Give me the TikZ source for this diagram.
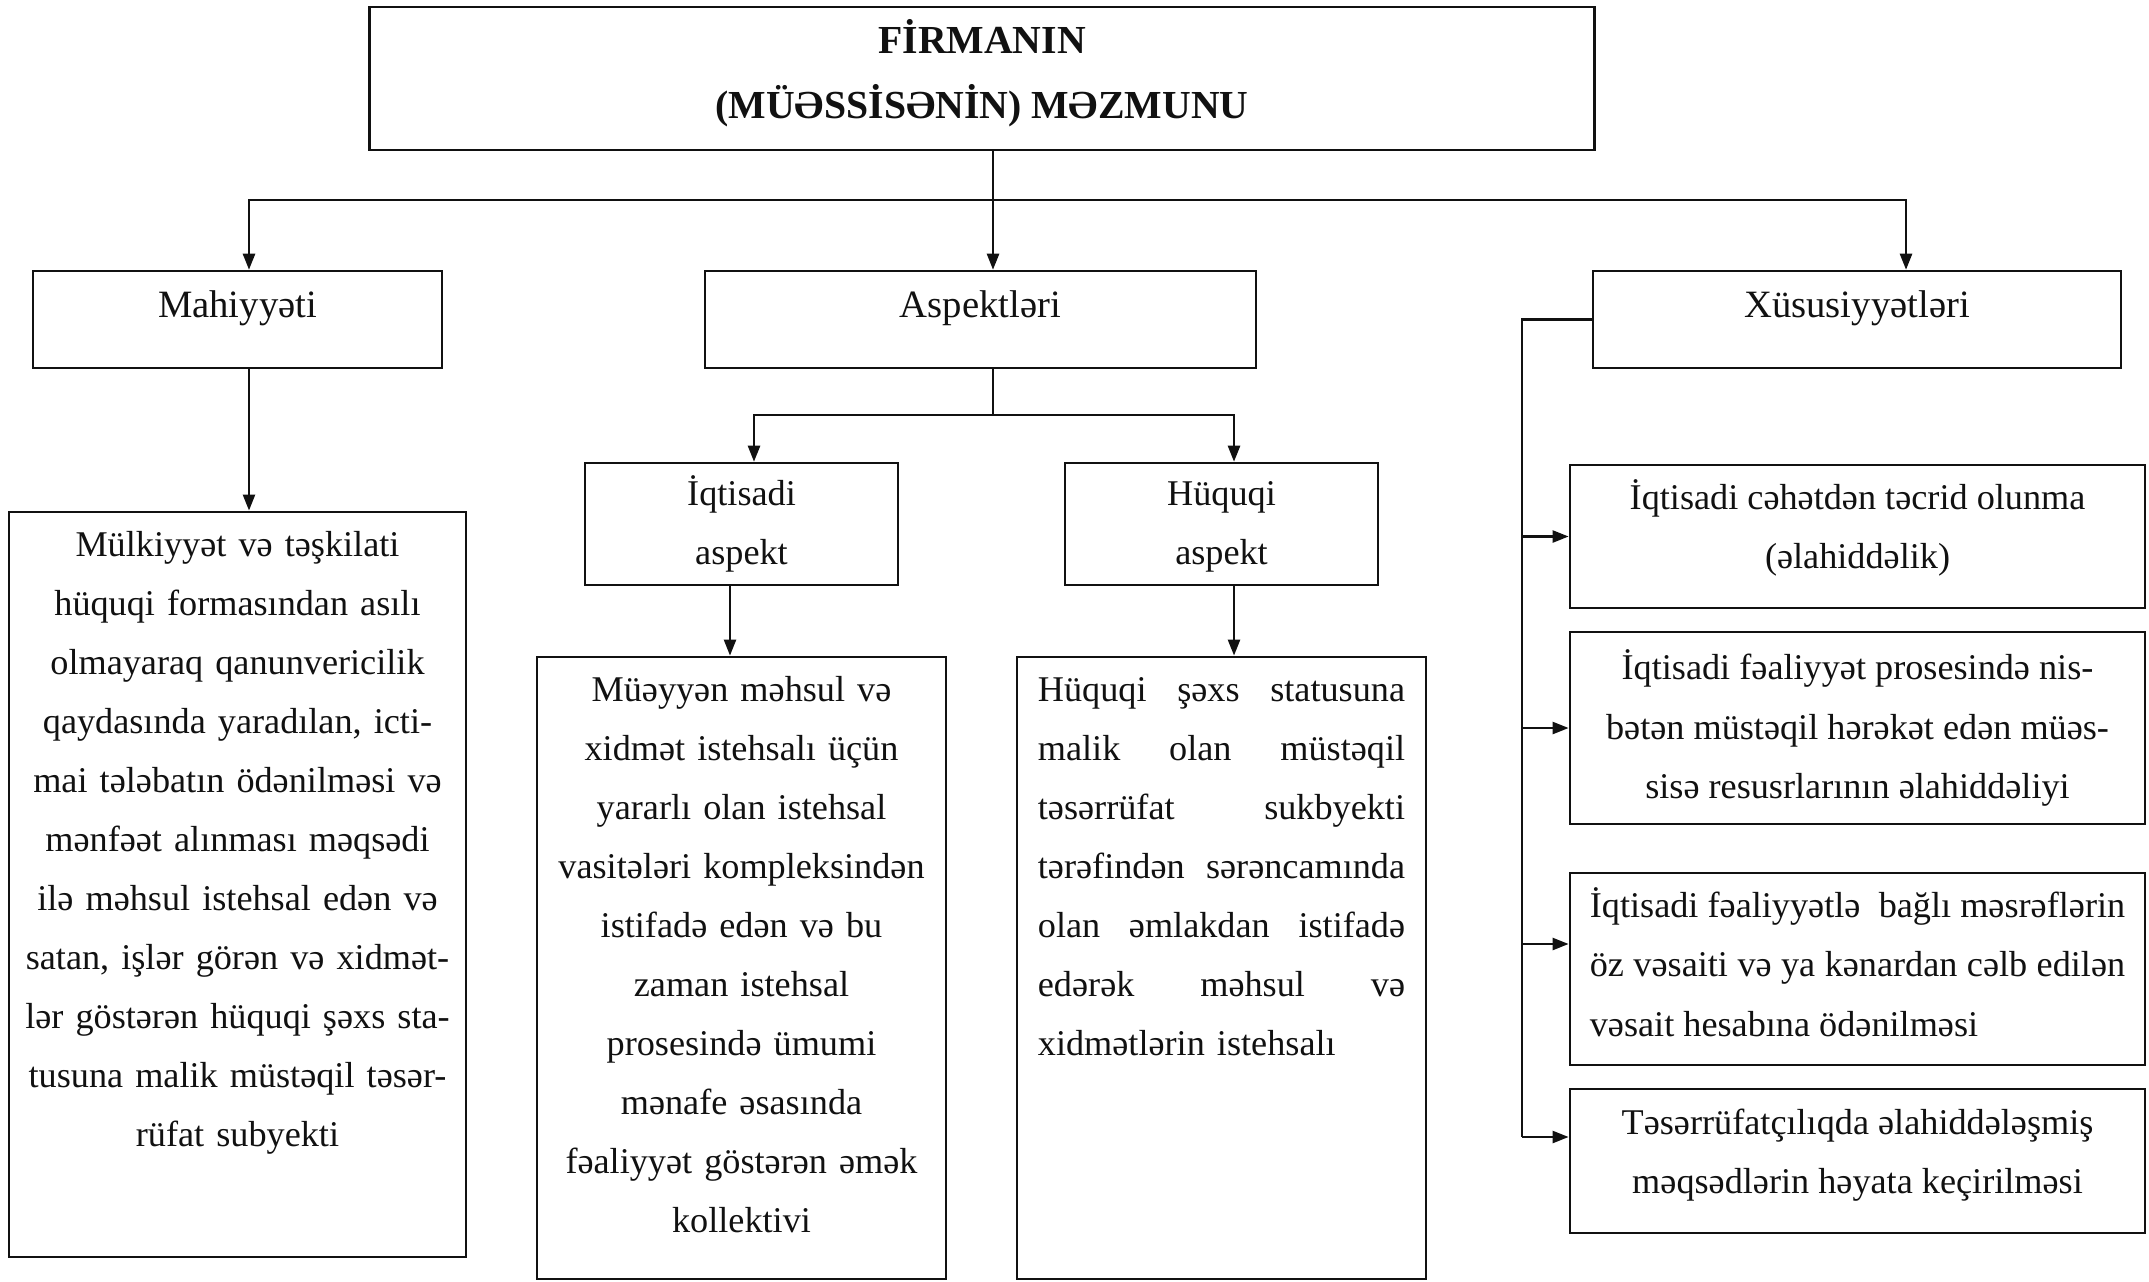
\documentclass[tikz,border=0pt]{standalone}
\usepackage{fontspec}
\setmainfont{Liberation Serif}
\usetikzlibrary{arrows.meta,positioning}
\definecolor{firmInk}{HTML}{111111}
\newcommand\firmjust[2]{\leavevmode\hbox to #1{#2}}
\tikzset{
  every picture/.style={font=\fontsize{10.3pt}{16.8pt}\selectfont, text=firmInk},
  firm box/.style={draw=firmInk, line width=0.7pt, fill=white, inner sep=0pt},
  firm head/.style={firm box, font=\fontsize{11pt}{16.8pt}\selectfont,
    text height=13.3pt, text depth=14.3pt},
  firm title/.style={firm box, align=center, text depth=5.6pt,
    font=\fontsize{11.3pt}{18.5pt}\selectfont\bfseries},
  firm aspect/.style={firm box, align=center, minimum width=3.13cm, minimum height=1.22cm,
    text height=24.8pt, text depth=1.9pt},
  firm item/.style={firm box, align=center, minimum width=5.75cm},
  firm text/.style={align=center, inner sep=0pt, anchor=base},
  firm line/.style={draw=firmInk, line width=0.7pt},
  firm arrow/.style={firm line, -{Triangle[length=1.6mm,width=1.2mm]}}
}
\begin{document}
\begin{tikzpicture}[x=0.01cm,y=-0.01cm]
  \useasboundingbox (0,0) rectangle (2149,1281);
  \node[firm title, minimum width=12.24cm, minimum height=1.43cm] (top) at (982,78.5)
    {FİRMANIN\\(MÜƏSSİSƏNİN) MƏZMUNU};
  \node[firm head, minimum width=4.09cm] (mah) at (237.5,319.5) {Mahiyyəti};
  \node[firm head, minimum width=5.51cm] (asp) at (980.5,319.5) {Aspektləri};
  \node[firm head, minimum width=5.28cm] (xus) at (1857,319.5) {Xüsusiyyətləri};

  \node[firm box, minimum width=4.57cm, minimum height=7.45cm] (mahbox) at (237.5,884.5) {};
  \node[firm text, text width=4.4cm] (mahtext) at ([yshift=-4.55mm]mahbox.north)
    {Mülkiyyət və təşkilati\\ hüquqi formasından asılı\\ olmayaraq qanunvericilik\\
     qaydasında yaradılan, icti-\\ mai tələbatın ödənilməsi və\\ mənfəət alınması məqsədi\\
     ilə məhsul istehsal edən və\\ satan, işlər görən və xidmət-\\ lər göstərən hüquqi şəxs sta-\\
     tusuna malik müstəqil təsər-\\ rüfat subyekti};

  \node[firm aspect] (iqa) at (741.5,524) {İqtisadi\\aspekt};
  \node[firm aspect] (huq) at (1221.5,524) {Hüquqi\\aspekt};

  \node[firm box, minimum width=4.09cm, minimum height=6.22cm] (iqbox) at (741.5,968) {};
  \node[firm text, text width=4.0cm] (iqtext) at ([yshift=-4.55mm]iqbox.north)
    {Müəyyən məhsul və\\ xidmət istehsalı üçün\\ yararlı olan istehsal\\
     vasitələri kompleksindən\\ istifadə edən və bu\\ zaman istehsal\\ prosesində ümumi\\
     mənafe əsasında\\ fəaliyyət göstərən əmək\\ kollektivi};
  \node[firm box, minimum width=4.09cm, minimum height=6.22cm] (huqbox) at (1221.5,968) {};
  \node[firm text, align=left, text width=3.67cm] (huqtext) at ([yshift=-4.55mm]huqbox.north)
    {\firmjust{3.67cm}{Hüquqi\hfill şəxs\hfill statusuna}\\
     \firmjust{3.67cm}{malik\hfill olan\hfill müstəqil}\\
     \firmjust{3.67cm}{təsərrüfat\hfill sukbyekti}\\
     \firmjust{3.67cm}{tərəfindən\hfill sərəncamında}\\
     \firmjust{3.67cm}{olan\hfill əmlakdan\hfill istifadə}\\
     \firmjust{3.67cm}{edərək\hfill məhsul\hfill və}\\
     xidmətlərin istehsalı};

  \node[firm item, minimum height=1.43cm, text depth=7pt] (f1) at (1857.5,536.5)
    {İqtisadi cəhətdən təcrid olunma\\(əlahiddəlik)};
  \node[firm item, minimum height=1.92cm] (f2) at (1857.5,728)
    {İqtisadi fəaliyyət prosesində nis-\\bətən müstəqil hərəkət edən müəs-\\sisə resusrlarının əlahiddəliyi};
  \node[firm item, align=left, minimum height=1.92cm, text depth=4pt] (f3) at (1857.5,969)
    {\firmjust{5.35cm}{İqtisadi\hfill fəaliyyətlə\hfill\hfill bağlı\hfill məsrəflərin}\\
     \firmjust{5.35cm}{öz\hfill vəsaiti\hfill və\hfill ya\hfill kənardan\hfill cəlb\hfill edilən}\\
     vəsait hesabına ödənilməsi};
  \node[firm item, minimum height=1.44cm, text depth=5.4pt] (f4) at (1857.5,1161)
    {Təsərrüfatçılıqda əlahiddələşmiş\\məqsədlərin həyata keçirilməsi};

  \coordinate (bus) at (993,200);
  \coordinate (busmah) at (249,200);
  \coordinate (busxus) at (1906,200);
  \draw[firm line] (top.south -| bus) -- (bus);
  \draw[firm arrow] (bus) -- (bus |- asp.north);
  \draw[firm arrow] (bus) -- (busmah) -- (busmah |- mah.north);
  \draw[firm arrow] (bus) -- (busxus) -- (busxus |- xus.north);
  \draw[firm arrow] (busmah |- mah.south) -- (busmah |- mahbox.north);

  \coordinate (subbus) at (993,415);
  \coordinate (subL) at (754,415);
  \coordinate (subR) at (1234,415);
  \draw[firm line] (bus |- asp.south) -- (subbus);
  \draw[firm arrow] (subbus) -- (subL) -- (subL |- iqa.north);
  \draw[firm arrow] (subbus) -- (subR) -- (subR |- huq.north);
  \draw[firm arrow] ([xshift=-1.15mm]iqa.south) -- ([xshift=-1.15mm]iqbox.north);
  \draw[firm arrow] ([xshift=1.25mm]huq.south) -- ([xshift=1.25mm]huqbox.north);

  \coordinate (xusrail) at (1522,319.5);
  \coordinate (f3in) at ([yshift=2.5mm]f3.west);
  \coordinate (f4in) at ([yshift=2.4mm]f4.west);
  \draw[firm line] (xus.west) -- (xusrail) -- (xusrail |- f4in);
  \foreach \f in {f1.west,f2.west,f3in,f4in}
    \draw[firm arrow] (xusrail |- \f) -- (\f);
\end{tikzpicture}
\end{document}
